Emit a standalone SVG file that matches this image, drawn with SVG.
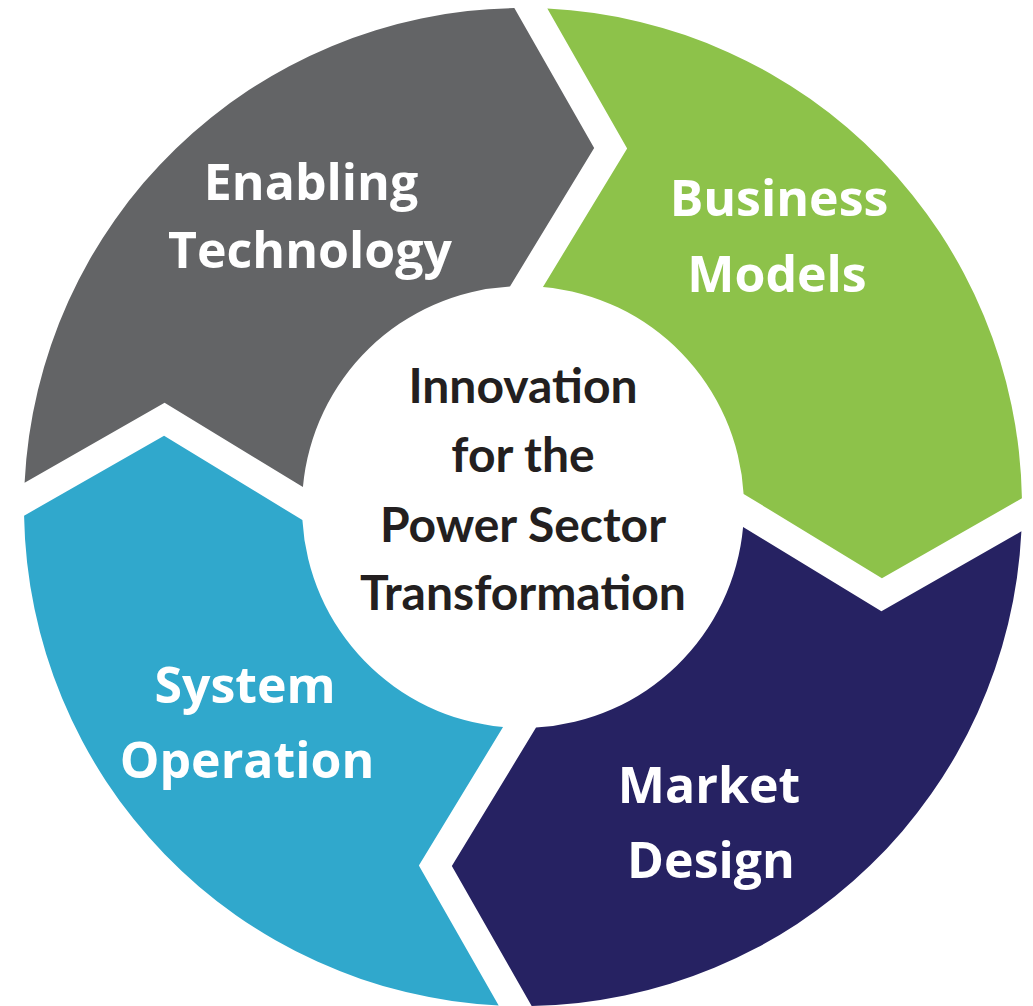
<svg xmlns="http://www.w3.org/2000/svg" width="1033" height="1006" viewBox="0 0 1033 1006">
<style>
.lbl{font-family:"Open Sans","Liberation Sans",sans-serif;font-weight:700;font-size:50px;fill:#ffffff;text-anchor:middle}
.ctr{font-family:Lato,"Liberation Sans",sans-serif;font-weight:700;font-size:48px;fill:#231f20;text-anchor:middle}
</style>
<rect width="1033" height="1006" fill="#ffffff"/>
<g id="ring" transform="translate(523,507) rotate(0.9)">
<g id="enabling-technology"><path fill="#636466" d="M -498.73,-16.5 L -360,-98.5 L -220.38,-16.5 A 221 221 0 0 1 -16.5,-220.38 L 65.5,-360 L -16.5,-498.73 A 499 499 0 0 0 -498.73,-16.5 Z"/></g>
<g id="business-models"><path fill="#8dc24a" d="M 16.5,-498.73 A 499 499 0 0 1 498.73,-16.5 L 360,65.5 L 220.38,-16.5 A 221 221 0 0 0 16.5,-220.38 L 98.5,-360 Z"/></g>
<g id="market-design"><path fill="#262262" d="M 498.73,16.5 A 499 499 0 0 1 16.5,498.73 L -65.5,360 L 16.5,220.38 A 221 221 0 0 0 220.38,16.5 L 360,98.5 Z"/></g>
<g id="system-operation"><path fill="#30a8cc" d="M -16.5,498.73 A 499 499 0 0 1 -498.73,16.5 L -360,-65.5 L -220.38,16.5 A 221 221 0 0 0 -16.5,220.38 L -98.5,360 Z"/></g>
</g>
<g id="labels">
<text class="lbl" x="311" y="200">Enabling</text>
<text class="lbl" x="310" y="268">Technology</text>
<text class="lbl" x="779" y="216">Business</text>
<text class="lbl" x="777" y="292">Models</text>
<text class="lbl" x="709" y="803">Market</text>
<text class="lbl" x="711" y="878">Design</text>
<text class="lbl" x="245" y="703">System</text>
<text class="lbl" x="247" y="778">Operation</text>
</g>
<g id="center">
<text class="ctr" x="523" y="403">Innovation</text>
<text class="ctr" x="523" y="472">for the</text>
<text class="ctr" x="523" y="542">Power Sector</text>
<text class="ctr" x="523" y="610">Transformation</text>
</g>
<g id="connectors"/>
</svg>
